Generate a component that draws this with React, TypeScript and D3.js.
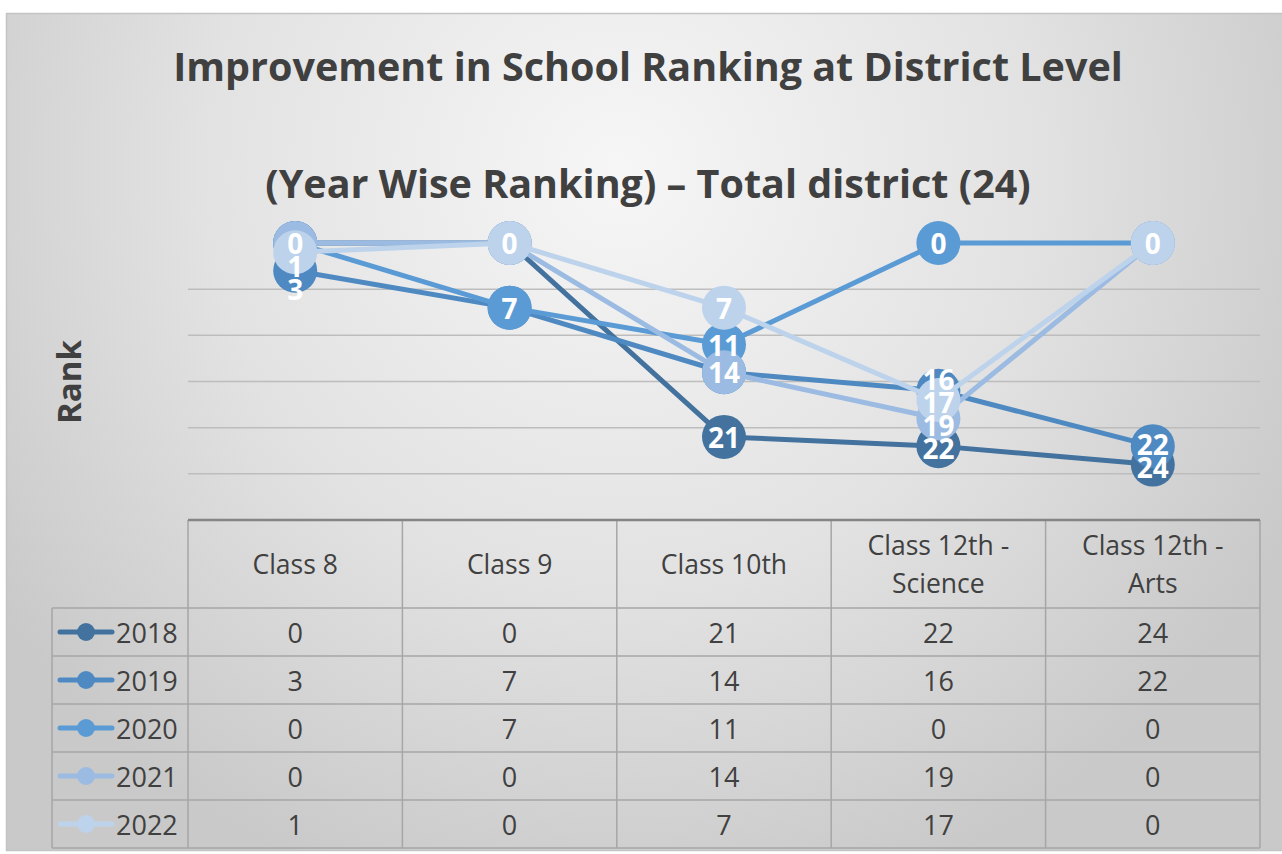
import React from "react";
import * as d3 from "d3";

const categories = ["Class 8", "Class 9", "Class 10th", "Class 12th - Science", "Class 12th - Arts"];
const years = ["2018", "2019", "2020", "2021", "2022"];
const rank2018 = [0, 0, 21, 22, 24];
const rank2019 = [3, 7, 14, 16, 22];
const rank2020 = [0, 7, 11, 0, 0];
const rank2021 = [0, 0, 14, 19, 0];
const rank2022 = [1, 0, 7, 17, 0];
const gridTicks = [5, 10, 15, 20, 25];
const titleLines = ["Improvement in School Ranking at District Level", "(Year Wise Ranking) \u2013 Total district (24)"];

const seriesValues = [rank2018, rank2019, rank2020, rank2021, rank2022];
const colors = ["#43729e", "#4f89c2", "#5b9bd5", "#9bbbe2", "#bdd3ec"];

const W = 1282;
const H = 854;
const FONT = "'Open Sans', 'Liberation Sans', sans-serif";

// layout
const plotLeft = 188;
const plotRight = 1260;
const tableLeft = 52;
const tableTop = 520;
const headerH = 88;
const rowH = 48;

// split "Class 12th - Science" into two header lines like Excel wraps it
const headerLines = (c: string) => {
  const i = c.indexOf(" - ");
  return i < 0 ? [c] : [c.slice(0, i) + " -", c.slice(i + 3)];
};

const App = () => {
  const x = d3.scaleBand().domain(categories).range([plotLeft, plotRight]);
  const y = d3.scaleLinear().domain([0, 30]).range([243, tableTop]);
  const cx = (c: string) => (x(c) as number) + x.bandwidth() / 2;

  const line = d3
    .line<number>()
    .x((d, i) => cx(categories[i]))
    .y((d) => y(d));

  // spread overlapping data labels in each category (rough version of what excel did)
  const gap = 23;
  const labels: { x: number; y: number; text: string }[] = [];
  categories.forEach((c, ci) => {
    const vals = Array.from(new Set(seriesValues.map((s) => s[ci]))).sort((a, b) => a - b);
    let clusters: { targets: number[]; texts: string[]; top: number }[] = [];
    vals.forEach((v) => {
      clusters.push({ targets: [y(v)], texts: [String(v)], top: y(v) });
      while (clusters.length > 1) {
        const a = clusters[clusters.length - 2];
        const b = clusters[clusters.length - 1];
        if (a.top + (a.targets.length - 1) * gap + gap <= b.top) break;
        const targets = a.targets.concat(b.targets);
        const mean = d3.mean(targets) as number;
        clusters.splice(-2, 2, {
          targets,
          texts: a.texts.concat(b.texts),
          top: Math.max(y(0), mean - ((targets.length - 1) * gap) / 2),
        });
      }
    });
    clusters.forEach((cl) =>
      cl.texts.forEach((t, i) => labels.push({ x: cx(c), y: cl.top + i * gap, text: t }))
    );
  });

  const tableBottom = tableTop + headerH + rowH * years.length;
  const colEdges = categories.map((c) => x(c) as number).concat([plotRight]);

  return (
    <svg width={W} height={H} style={{ position: "fixed", left: 0, top: 0 }} fontFamily={FONT}>
      <defs>
        <radialGradient id="bg" cx="620" cy="170" r="760" gradientUnits="userSpaceOnUse">
          <stop offset="0" stopColor="#f6f6f6" />
          <stop offset="0.55" stopColor="#e2e2e2" />
          <stop offset="1" stopColor="#c9c9c9" />
        </radialGradient>
      </defs>
      <rect x={0} y={0} width={W} height={H} fill="#ffffff" />
      <rect x={6.5} y={13.5} width={W} height={837} fill="url(#bg)" stroke="#c4c4c4" strokeWidth={1.5} />

      {titleLines.map((t, i) => (
        <text key={t} x={648} y={i === 0 ? 66 : 183} textAnchor="middle" dominantBaseline="central"
          fontSize={39.5} fontWeight={700} fill="#404040">
          {t}
        </text>
      ))}

      <text transform="translate(68,382) rotate(-90)" textAnchor="middle" dominantBaseline="central"
        fontSize={33} fontWeight={700} fill="#404040">
        Rank
      </text>

      {gridTicks.map((t) => (
        <line key={t} x1={plotLeft} x2={plotRight} y1={y(t)} y2={y(t)} stroke="#bdbdbd" strokeWidth={1.5} />
      ))}

      {seriesValues.map((s, si) => (
        <g key={years[si]}>
          <path d={line(s) as string} fill="none" stroke={colors[si]} strokeWidth={5} strokeLinejoin="round" />
          {s.map((v, i) => (
            <circle key={i} cx={cx(categories[i])} cy={y(v)} r={22} fill={colors[si]} />
          ))}
        </g>
      ))}

      {labels.map((l, i) => (
        <text key={i} x={l.x} y={l.y} textAnchor="middle" dominantBaseline="central" fontSize={28}
          fontWeight={700} fill="#ffffff">
          {l.text}
        </text>
      ))}

      {/* data table */}
      <g stroke="#a6a6a6" strokeWidth={1.5} fill="none">
        {years.map((yr, i) => (
          <line key={yr} x1={tableLeft} x2={plotRight} y1={tableTop + headerH + i * rowH}
            y2={tableTop + headerH + i * rowH} />
        ))}
        <line x1={tableLeft} x2={plotRight} y1={tableBottom} y2={tableBottom} />
        <line x1={tableLeft} x2={tableLeft} y1={tableTop + headerH} y2={tableBottom} />
        {colEdges.map((e, i) => (
          <line key={i} x1={e} x2={e} y1={tableTop} y2={tableBottom} />
        ))}
      </g>
      <line x1={plotLeft} x2={plotRight} y1={y(30)} y2={y(30)} stroke="#858585" strokeWidth={2.5} />

      {categories.map((c) => {
        const lines = headerLines(c);
        const mid = tableTop + headerH / 2;
        return lines.map((t, li) => (
          <text key={c + li} x={cx(c)} y={mid + (li - (lines.length - 1) / 2) * 38} textAnchor="middle"
            dominantBaseline="central" fontSize={26.5} fill="#404040">
            {t}
          </text>
        ));
      })}

      {years.map((yr, si) => {
        const rowY = tableTop + headerH + si * rowH + rowH / 2;
        return (
          <g key={yr}>
            <line x1={60} x2={112} y1={rowY} y2={rowY} stroke={colors[si]} strokeWidth={5} strokeLinecap="round" />
            <circle cx={86} cy={rowY} r={9} fill={colors[si]} />
            <text x={116} y={rowY} dominantBaseline="central" fontSize={27} fill="#404040">
              {yr}
            </text>
            {seriesValues[si].map((v, i) => (
              <text key={i} x={cx(categories[i])} y={rowY} textAnchor="middle" dominantBaseline="central"
                fontSize={27} fill="#404040">
                {v}
              </text>
            ))}
          </g>
        );
      })}
    </svg>
  );
};

export default App;
